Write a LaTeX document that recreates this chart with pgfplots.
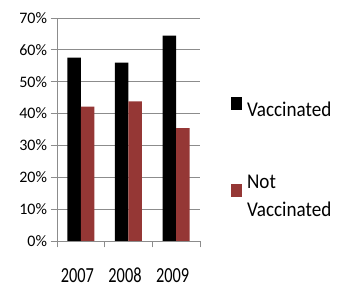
\documentclass[border=0pt]{standalone}
\usepackage{fontspec}
\setmainfont{Carlito}
\newfontfamily\yearfont{Carlito}[FakeStretch=0.76]
\newfontfamily\legfont{Carlito}[FakeStretch=0.91]
\usepackage{pgfplots}
\pgfplotsset{compat=1.18}
\definecolor{notvac}{RGB}{149,55,53}
\definecolor{gridc}{RGB}{140,140,140}
\begin{document}
\begin{tikzpicture}
\useasboundingbox (0,0) rectangle (337pt,288pt);
\begin{axis}[
  at={(57pt,47pt)}, anchor=south west,
  scale only axis, width=143pt, height=223pt,
  xmin=-0.5, xmax=2.5, ymin=0, ymax=70,
  ybar=0pt, bar width=13.5pt,
  axis x line*=bottom, axis y line*=left,
  axis line style={gridc, line width=0.8pt, -},
  xtick={-0.5,0.5,1.5,2.5}, xticklabels={},
  extra x ticks={0,1,2}, extra x tick labels={2007,2008,2009},
  extra x tick style={major tick length=0pt},
  ytick={0,10,...,70},
  yticklabels={0\%,10\%,20\%,30\%,40\%,50\%,60\%,70\%},
  ymajorgrids, grid style={gridc, line width=0.8pt},
  tick align=outside, tick style={gridc, line width=0.8pt},
  major tick length=6.5pt,
  xticklabel style={font=\yearfont\fontsize{21.5}{21.5}\selectfont, anchor=base, inner sep=0pt, outer sep=0pt, yshift=-41.5pt, xshift=-3.5pt},
  yticklabel style={font=\fontsize{16}{16}\selectfont, anchor=east},
  legend style={at={(1.2147,0.6457)}, anchor=north west, draw=none, fill=none,
    inner sep=0pt, outer sep=0pt,
    font=\legfont\fontsize{21}{28}\selectfont,
    nodes={align=left, inner sep=0pt}, row sep=57pt, column sep=4.7pt},
  legend cell align=left,
]
\addplot[fill=black, draw=none, legend image code/.code={\fill[black] (0pt,0pt) rectangle (11.7pt,13.4pt);}]
  coordinates {(0,57.6) (1,56.0) (2,64.5)};
\addlegendentry{Vaccinated}
\addplot[fill=notvac, draw=none, legend image code/.code={\fill[notvac] (0pt,0pt) rectangle (11.7pt,13.4pt);}]
  coordinates {(0,42.2) (1,43.8) (2,35.4)};
\addlegendentry{Not\\Vaccinated}
\end{axis}
\end{tikzpicture}
\end{document}
